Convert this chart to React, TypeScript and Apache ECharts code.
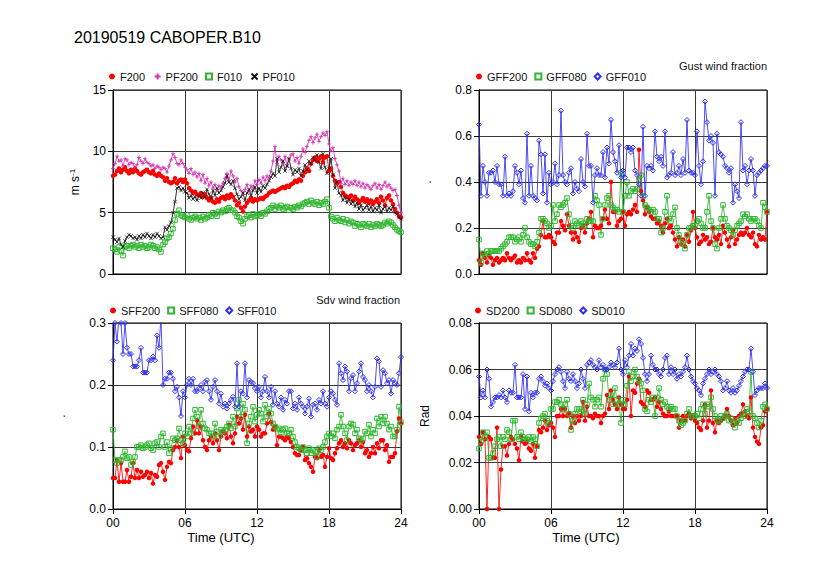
import React, { useEffect, useRef } from "react";
import * as echarts from "echarts";

// ---------- Panel 1: wind speed (m s-1), 10-min steps 00-24 UTC ----------
const F200 = [
  8.0, 8.1, 8.4, 8.6, 8.3, 8.5, 8.7, 8.4, 8.2, 8.5, 8.3, 8.6,
  8.4, 8.2, 8.1, 8.3, 8.4, 8.5, 8.3, 8.2, 8.4, 8.1, 8.0, 8.2,
  8.0, 7.9, 7.6, 7.8, 7.5, 7.4, 7.5, 7.8, 7.4, 7.6, 7.7, 7.5,
  7.7, 7.4, 7.0, 6.8, 6.6, 6.7, 6.5, 6.4, 6.6, 6.3, 6.5, 6.2,
  6.0, 6.2, 5.9, 5.8, 6.1, 5.9, 6.2, 6.3, 6.1, 6.4, 6.2, 6.5,
  6.3, 6.0, 5.6, 5.8, 5.4, 5.1, 5.5, 5.8, 6.0, 6.2, 5.9, 6.1,
  6.0, 6.1, 6.2, 6.1, 6.3, 6.4, 6.6, 6.7, 6.8, 6.7, 6.8, 6.9,
  7.0, 7.1, 7.0, 7.2, 7.1, 7.3, 7.4, 7.6, 7.5, 7.7, 7.6, 8.0,
  8.3, 8.6, 8.4, 9.0, 9.3, 9.5, 9.2, 9.4, 9.6, 9.1, 9.5, 9.6,
  8.4, 8.6, 8.0, 7.6, 7.4, 7.5, 7.1, 6.6, 6.4, 6.3, 6.2, 6.4,
  6.0, 6.3, 6.1, 5.8, 6.0, 6.2, 5.9, 6.1, 5.8, 6.0, 5.7, 5.9,
  6.1, 5.8, 6.3, 6.0, 5.6, 6.2, 6.4, 6.0, 5.7, 5.3, 5.0, 4.7,
  4.6,
];
const PF200 = [
  8.6, 9.0, 9.6, 9.2, 9.3, 8.8, 9.4, 9.3, 8.9, 9.1, 9.0, 8.7,
  8.9, 9.5, 9.2, 9.0, 9.4, 9.1, 9.0, 8.8, 8.9, 8.6, 8.8, 8.7,
  8.5, 8.7, 8.6, 8.3, 8.8, 9.3, 9.8, 9.5, 9.0, 8.9, 9.3, 9.0,
  8.7, 8.5, 8.2, 8.6, 8.1, 8.3, 7.9, 8.2, 7.6, 8.1, 7.4, 7.8,
  7.2, 7.5, 7.0, 7.3, 6.9, 7.2, 7.0, 7.4, 7.8, 8.2, 7.6, 8.4,
  8.0, 7.5, 7.8, 7.1, 6.8, 6.6, 6.9, 7.3, 6.7, 7.2, 7.0, 7.6,
  7.3, 7.7, 7.4, 7.9, 7.6, 8.0, 7.8, 8.4, 9.2, 10.4, 9.0, 9.6,
  9.3, 9.0, 9.6, 8.8, 9.4, 9.7, 9.8, 9.2, 9.5, 9.0, 9.6, 10.2,
  9.9, 10.4, 10.9, 11.2, 10.7, 11.1, 11.4, 10.8, 11.2, 11.5, 11.3, 11.6,
  10.6, 10.0, 10.3, 9.4, 8.9, 8.4, 7.4, 7.8, 7.3, 7.6, 7.2, 7.5,
  7.3, 7.6, 7.2, 7.5, 7.1, 7.4, 7.0, 7.3, 7.1, 6.9, 7.2, 7.4,
  7.0, 7.3, 6.9, 7.2, 7.5, 7.1, 7.3, 7.0, 6.8, 6.9, 6.4, 5.6,
  5.0,
];
const F010 = [
  2.1, 2.0, 1.8, 2.2, 1.9, 1.5, 2.2, 2.3, 2.1, 2.3, 2.4, 2.2,
  2.3, 2.1, 2.4, 2.2, 2.3, 2.1, 2.2, 2.4, 2.3, 2.1, 2.2, 2.0,
  1.8, 2.4, 2.6, 2.9, 3.0, 3.3, 3.7, 4.4, 4.9, 5.2, 4.8, 4.7,
  4.6, 4.8, 4.5, 4.4, 4.6, 4.7, 4.5, 4.6, 4.4, 4.7, 4.5, 4.6,
  4.8, 4.7, 5.0, 4.9, 4.7, 5.1, 5.0, 5.2, 5.1, 5.3, 5.4, 5.2,
  5.2, 5.0, 4.7, 4.6, 4.3, 4.1, 4.5, 4.7, 4.8, 4.6, 4.9, 4.7,
  4.8, 4.9, 4.7, 5.0, 4.9, 5.1, 5.3, 5.4, 5.6, 5.3, 5.5, 5.4,
  5.6, 5.3, 5.4, 5.5, 5.2, 5.4, 5.3, 5.5, 5.4, 5.6, 5.5, 5.7,
  5.8, 5.9, 5.7, 6.0, 5.8, 5.7, 5.9, 5.6, 5.8, 5.7, 5.9, 6.1,
  5.4, 4.7, 4.5, 4.3, 4.6, 4.4, 4.3, 4.5, 4.2, 4.4, 4.1, 4.3,
  4.2, 3.9, 4.1, 4.0, 3.8, 4.1, 4.0, 3.9, 4.1, 3.8, 4.0, 3.9,
  4.1, 4.0, 3.9, 4.0, 4.2, 4.1, 4.3, 4.2, 4.0, 3.8, 3.6, 3.5,
  3.4,
];
const PF010 = [
  3.0, 2.8, 2.6, 2.9, 2.4, 2.2, 2.7, 3.0, 3.2, 3.1, 2.9, 3.0,
  2.8, 3.1, 2.9, 3.2, 3.0, 3.3, 3.1, 2.9, 3.2, 3.0, 3.3, 3.1,
  2.9, 3.0, 3.8, 3.6, 3.9, 4.2, 5.0, 5.9, 7.0, 7.1, 6.8, 7.0,
  6.7, 6.6, 6.2, 6.4, 6.1, 6.3, 6.0, 6.4, 6.2, 6.6, 6.3, 6.9,
  6.5, 6.2, 6.8, 6.4, 7.0, 6.6, 6.8, 7.1, 7.4, 8.0, 7.5, 7.3,
  7.6, 7.0, 6.5, 6.1, 6.3, 6.6, 6.0, 6.6, 6.9, 6.4, 6.8, 7.1,
  6.6, 7.0, 6.7, 7.2, 7.0, 7.3, 7.6, 7.9, 8.2, 8.0, 9.4, 8.3,
  8.7, 9.2, 8.4, 8.8, 9.4, 8.6, 8.1, 8.5, 8.3, 8.6, 8.0, 8.4,
  8.9, 8.5, 9.2, 9.0, 9.5, 9.3, 9.7, 9.1, 8.6, 9.8, 8.7, 8.2,
  8.6, 9.4, 8.1, 7.0, 7.5, 6.6, 6.4, 6.0, 6.3, 5.8, 6.1, 5.7,
  5.9, 5.5, 5.8, 5.3, 5.6, 5.2, 5.4, 5.6, 5.2, 5.5, 5.1, 5.4,
  5.2, 5.6, 5.0, 5.3, 5.5, 5.1, 5.4, 5.2, 5.5, 5.0, 4.9, 4.6,
  4.5,
];

// ---------- Panel 2: gust wind fraction ----------
const GFF200 = [
  0.06, 0.04, 0.09, 0.07, 0.05, 0.08, 0.07, 0.04, 0.06, 0.07, 0.05, 0.06,
  0.07, 0.06, 0.09, 0.07, 0.06, 0.07, 0.08, 0.05, 0.06, 0.05, 0.07, 0.06,
  0.09, 0.06, 0.05, 0.09, 0.07, 0.11, 0.12, 0.17, 0.23, 0.16, 0.16, 0.17,
  0.16, 0.14, 0.13, 0.18, 0.18, 0.23, 0.21, 0.19, 0.26, 0.21, 0.18, 0.15,
  0.18, 0.16, 0.14, 0.20, 0.21, 0.18, 0.22, 0.24, 0.27, 0.16, 0.21, 0.20,
  0.20, 0.21, 0.24, 0.28, 0.24, 0.22, 0.40, 0.27, 0.27, 0.21, 0.23, 0.24,
  0.27, 0.21, 0.26, 0.27, 0.26, 0.28, 0.30, 0.27, 0.54, 0.36, 0.32, 0.26,
  0.29, 0.27, 0.25, 0.24, 0.24, 0.22, 0.23, 0.21, 0.18, 0.22, 0.24, 0.20,
  0.21, 0.18, 0.15, 0.12, 0.16, 0.13, 0.15, 0.12, 0.17, 0.14, 0.19, 0.27,
  0.20, 0.16, 0.13, 0.14, 0.17, 0.15, 0.16, 0.13, 0.14, 0.20, 0.16, 0.15,
  0.17, 0.13, 0.21, 0.18, 0.15, 0.12, 0.16, 0.19, 0.13, 0.15, 0.17, 0.18,
  0.17, 0.18, 0.20, 0.17, 0.16, 0.18, 0.13, 0.12, 0.17, 0.15, 0.16, 0.15,
  0.27,
];
const GFF080 = [
  0.15, 0.05, 0.09, 0.08, 0.10, 0.09, 0.10, 0.10, 0.10, 0.10, 0.10, 0.11,
  0.12, 0.13, 0.14, 0.16, 0.16, 0.16, 0.14, 0.15, 0.16, 0.14, 0.17, 0.20,
  0.16, 0.14, 0.13, 0.13, 0.12, 0.14, 0.18, 0.24, 0.24, 0.23, 0.22, 0.20,
  0.21, 0.30, 0.23, 0.26, 0.30, 0.29, 0.30, 0.31, 0.33, 0.26, 0.21, 0.20,
  0.23, 0.22, 0.21, 0.23, 0.22, 0.21, 0.24, 0.23, 0.23, 0.23, 0.34, 0.32,
  0.30, 0.17, 0.24, 0.30, 0.33, 0.34, 0.30, 0.29, 0.28, 0.28, 0.27, 0.44,
  0.27, 0.34, 0.40, 0.34, 0.36, 0.37, 0.36, 0.37, 0.41, 0.43, 0.34, 0.30,
  0.29, 0.28, 0.27, 0.28, 0.27, 0.24, 0.24, 0.18, 0.20, 0.27, 0.34, 0.24,
  0.23, 0.26, 0.29, 0.20, 0.17, 0.14, 0.13, 0.11, 0.17, 0.20, 0.20, 0.21,
  0.21, 0.23, 0.24, 0.22, 0.20, 0.20, 0.27, 0.34, 0.23, 0.20, 0.13, 0.11,
  0.20, 0.24, 0.30, 0.24, 0.21, 0.20, 0.19, 0.17, 0.19, 0.21, 0.22, 0.23,
  0.26, 0.25, 0.26, 0.24, 0.23, 0.24, 0.24, 0.23, 0.21, 0.20, 0.31, 0.29,
  0.27,
];
const GFF010 = [
  0.65, 0.34, 0.47, 0.40, 0.34, 0.44, 0.44, 0.45, 0.40, 0.47, 0.39, 0.39,
  0.34, 0.51, 0.34, 0.35, 0.34, 0.36, 0.47, 0.44, 0.39, 0.45, 0.33, 0.31,
  0.61, 0.34, 0.47, 0.34, 0.33, 0.32, 0.58, 0.52, 0.35, 0.52, 0.31, 0.44,
  0.39, 0.40, 0.48, 0.39, 0.43, 0.71, 0.43, 0.40, 0.39, 0.44, 0.46, 0.35,
  0.40, 0.37, 0.36, 0.50, 0.40, 0.38, 0.61, 0.47, 0.47, 0.31, 0.43, 0.46,
  0.43, 0.43, 0.53, 0.42, 0.55, 0.48, 0.67, 0.53, 0.49, 0.44, 0.56, 0.42,
  0.45, 0.42, 0.55, 0.55, 0.53, 0.55, 0.45, 0.43, 0.39, 0.34, 0.64, 0.34,
  0.47, 0.46, 0.47, 0.45, 0.62, 0.51, 0.49, 0.51, 0.47, 0.62, 0.42, 0.43,
  0.44, 0.53, 0.43, 0.44, 0.47, 0.43, 0.50, 0.44, 0.67, 0.45, 0.44, 0.44,
  0.43, 0.62, 0.47, 0.39, 0.49, 0.75, 0.66, 0.58, 0.60, 0.57, 0.34, 0.61,
  0.53, 0.52, 0.51, 0.47, 0.46, 0.44, 0.46, 0.31, 0.39, 0.36, 0.33, 0.66,
  0.45, 0.47, 0.39, 0.45, 0.50, 0.45, 0.34, 0.43, 0.44, 0.45, 0.46, 0.47,
  0.47,
];

// ---------- Panel 3: sdv wind fraction ----------
const SFF200 = [
  0.050, 0.050, 0.079, 0.044, 0.074, 0.044, 0.044, 0.063, 0.044, 0.052, 0.074, 0.050,
  0.063, 0.050, 0.060, 0.052, 0.055, 0.060, 0.050, 0.058, 0.041, 0.055, 0.052, 0.071,
  0.074, 0.060, 0.047, 0.068, 0.076, 0.074, 0.095, 0.100, 0.110, 0.100, 0.082, 0.117,
  0.103, 0.095, 0.093, 0.114, 0.133, 0.122, 0.143, 0.122, 0.133, 0.111, 0.100, 0.095,
  0.111, 0.117, 0.106, 0.122, 0.111, 0.095, 0.117, 0.125, 0.122, 0.114, 0.136, 0.117,
  0.106, 0.122, 0.149, 0.138, 0.146, 0.128, 0.152, 0.117, 0.133, 0.125, 0.128, 0.117,
  0.133, 0.128, 0.117, 0.122, 0.122, 0.138, 0.154, 0.140, 0.128, 0.133, 0.103, 0.117,
  0.117, 0.114, 0.111, 0.117, 0.114, 0.108, 0.100, 0.090, 0.087, 0.087, 0.095, 0.100,
  0.079, 0.082, 0.074, 0.068, 0.060, 0.084, 0.082, 0.095, 0.084, 0.087, 0.068, 0.084,
  0.098, 0.082, 0.079, 0.090, 0.098, 0.106, 0.111, 0.100, 0.106, 0.098, 0.111, 0.106,
  0.095, 0.103, 0.106, 0.111, 0.100, 0.108, 0.090, 0.095, 0.084, 0.090, 0.100, 0.090,
  0.106, 0.098, 0.111, 0.111, 0.095, 0.103, 0.076, 0.084, 0.084, 0.090, 0.125, 0.146,
  0.138,
];
const SFF080 = [
  0.128, 0.079, 0.074, 0.079, 0.079, 0.084, 0.093, 0.082, 0.084, 0.071, 0.076, 0.084,
  0.100, 0.100, 0.103, 0.098, 0.100, 0.103, 0.106, 0.098, 0.095, 0.106, 0.108, 0.100,
  0.117, 0.122, 0.100, 0.108, 0.090, 0.098, 0.114, 0.111, 0.114, 0.130, 0.111, 0.106,
  0.122, 0.117, 0.133, 0.122, 0.146, 0.160, 0.149, 0.133, 0.160, 0.138, 0.130, 0.128,
  0.122, 0.122, 0.117, 0.138, 0.125, 0.117, 0.128, 0.125, 0.128, 0.133, 0.138, 0.130,
  0.149, 0.133, 0.162, 0.176, 0.149, 0.170, 0.160, 0.106, 0.138, 0.149, 0.165, 0.141,
  0.152, 0.160, 0.154, 0.141, 0.168, 0.149, 0.162, 0.154, 0.138, 0.133, 0.128, 0.130,
  0.122, 0.128, 0.130, 0.122, 0.122, 0.128, 0.117, 0.108, 0.100, 0.098, 0.095, 0.100,
  0.095, 0.090, 0.098, 0.090, 0.095, 0.093, 0.084, 0.098, 0.095, 0.100, 0.108, 0.117,
  0.122, 0.117, 0.122, 0.114, 0.128, 0.133, 0.152, 0.133, 0.122, 0.111, 0.133, 0.138,
  0.136, 0.122, 0.128, 0.114, 0.111, 0.114, 0.125, 0.122, 0.136, 0.117, 0.128, 0.122,
  0.146, 0.133, 0.149, 0.138, 0.149, 0.138, 0.128, 0.133, 0.117, 0.117, 0.128, 0.165,
  0.140,
];
const SFF010 = [
  0.240, 0.300, 0.270, 0.310, 0.300, 0.250, 0.300, 0.260, 0.250, 0.250, 0.230, 0.230,
  0.230, 0.240, 0.260, 0.220, 0.220, 0.220, 0.240, 0.240, 0.246, 0.240, 0.280, 0.260,
  0.310, 0.200, 0.210, 0.210, 0.220, 0.220, 0.210, 0.190, 0.197, 0.180, 0.150, 0.190,
  0.180, 0.200, 0.210, 0.200, 0.210, 0.190, 0.190, 0.195, 0.200, 0.190, 0.205, 0.208,
  0.190, 0.176, 0.197, 0.208, 0.190, 0.170, 0.186, 0.165, 0.170, 0.162, 0.170, 0.176,
  0.181, 0.165, 0.235, 0.165, 0.190, 0.186, 0.235, 0.180, 0.208, 0.205, 0.203, 0.195,
  0.190, 0.197, 0.180, 0.190, 0.213, 0.190, 0.180, 0.197, 0.168, 0.190, 0.170, 0.165,
  0.180, 0.160, 0.176, 0.170, 0.190, 0.190, 0.162, 0.170, 0.160, 0.180, 0.170, 0.165,
  0.154, 0.165, 0.178, 0.149, 0.168, 0.170, 0.160, 0.176, 0.170, 0.190, 0.170, 0.165,
  0.180, 0.190, 0.186, 0.176, 0.168, 0.235, 0.219, 0.208, 0.230, 0.222, 0.190, 0.211,
  0.216, 0.190, 0.203, 0.222, 0.235, 0.213, 0.208, 0.190, 0.200, 0.190, 0.180, 0.197,
  0.243, 0.238, 0.197, 0.224, 0.219, 0.203, 0.208, 0.186, 0.208, 0.203, 0.200, 0.219,
  0.245,
];

// ---------- Panel 4: SD (rad) ----------
const SD200 = [
  0.031, 0.028, 0.033, 0.030, 0.000, 0.031, 0.030, 0.022, 0.022, 0.035, 0.000, 0.017,
  0.027, 0.027, 0.023, 0.028, 0.031, 0.030, 0.028, 0.026, 0.021, 0.031, 0.029, 0.028,
  0.029, 0.026, 0.025, 0.028, 0.022, 0.027, 0.034, 0.033, 0.035, 0.038, 0.034, 0.036,
  0.037, 0.035, 0.031, 0.040, 0.040, 0.043, 0.040, 0.043, 0.040, 0.041, 0.035, 0.040,
  0.037, 0.040, 0.038, 0.040, 0.046, 0.038, 0.044, 0.040, 0.040, 0.039, 0.041, 0.040,
  0.040, 0.037, 0.040, 0.041, 0.049, 0.043, 0.051, 0.047, 0.045, 0.043, 0.048, 0.045,
  0.043, 0.043, 0.047, 0.057, 0.040, 0.051, 0.050, 0.054, 0.056, 0.046, 0.045, 0.044,
  0.051, 0.050, 0.047, 0.047, 0.048, 0.044, 0.046, 0.043, 0.041, 0.040, 0.040, 0.042,
  0.040, 0.040, 0.040, 0.040, 0.035, 0.038, 0.040, 0.038, 0.040, 0.041, 0.039, 0.040,
  0.038, 0.037, 0.035, 0.034, 0.038, 0.045, 0.035, 0.038, 0.051, 0.037, 0.033, 0.038,
  0.037, 0.038, 0.039, 0.040, 0.043, 0.040, 0.038, 0.036, 0.039, 0.037, 0.040, 0.041,
  0.045, 0.042, 0.040, 0.039, 0.048, 0.035, 0.031, 0.029, 0.028, 0.035, 0.036, 0.042,
  0.043,
];
const SD080 = [
  0.026, 0.029, 0.033, 0.031, 0.033, 0.022, 0.022, 0.024, 0.027, 0.030, 0.031, 0.027,
  0.031, 0.030, 0.034, 0.033, 0.030, 0.038, 0.038, 0.031, 0.030, 0.033, 0.031, 0.030,
  0.030, 0.031, 0.029, 0.031, 0.030, 0.027, 0.037, 0.039, 0.040, 0.041, 0.038, 0.037,
  0.043, 0.043, 0.046, 0.046, 0.047, 0.045, 0.043, 0.045, 0.047, 0.041, 0.034, 0.038,
  0.041, 0.043, 0.043, 0.042, 0.047, 0.041, 0.045, 0.054, 0.048, 0.047, 0.044, 0.047,
  0.048, 0.044, 0.056, 0.060, 0.058, 0.047, 0.049, 0.045, 0.052, 0.047, 0.045, 0.037,
  0.047, 0.045, 0.053, 0.059, 0.055, 0.057, 0.060, 0.057, 0.055, 0.054, 0.051, 0.043,
  0.042, 0.047, 0.046, 0.048, 0.040, 0.048, 0.052, 0.047, 0.045, 0.046, 0.044, 0.043,
  0.044, 0.043, 0.043, 0.040, 0.038, 0.036, 0.037, 0.038, 0.041, 0.043, 0.040, 0.040,
  0.040, 0.041, 0.039, 0.043, 0.045, 0.041, 0.045, 0.044, 0.048, 0.043, 0.040, 0.038,
  0.038, 0.040, 0.039, 0.040, 0.041, 0.038, 0.039, 0.037, 0.035, 0.038, 0.037, 0.039,
  0.041, 0.040, 0.043, 0.042, 0.059, 0.040, 0.039, 0.037, 0.035, 0.038, 0.044, 0.045,
  0.043,
];
const SD010 = [
  0.057, 0.048, 0.051, 0.048, 0.060, 0.056, 0.044, 0.046, 0.048, 0.048, 0.049, 0.048,
  0.051, 0.048, 0.046, 0.051, 0.050, 0.050, 0.062, 0.048, 0.048, 0.048, 0.058, 0.043,
  0.057, 0.042, 0.050, 0.048, 0.050, 0.050, 0.056, 0.057, 0.055, 0.053, 0.054, 0.052,
  0.051, 0.055, 0.058, 0.060, 0.061, 0.059, 0.055, 0.052, 0.059, 0.056, 0.055, 0.058,
  0.055, 0.052, 0.054, 0.060, 0.056, 0.052, 0.062, 0.063, 0.064, 0.062, 0.061, 0.060,
  0.064, 0.061, 0.062, 0.060, 0.060, 0.061, 0.063, 0.062, 0.061, 0.063, 0.069, 0.060,
  0.058, 0.064, 0.061, 0.066, 0.071, 0.066, 0.069, 0.068, 0.073, 0.071, 0.065, 0.058,
  0.055, 0.058, 0.066, 0.062, 0.060, 0.060, 0.058, 0.057, 0.060, 0.065, 0.066, 0.058,
  0.061, 0.058, 0.060, 0.056, 0.058, 0.057, 0.059, 0.061, 0.066, 0.060, 0.057, 0.055,
  0.054, 0.052, 0.051, 0.049, 0.054, 0.056, 0.058, 0.060, 0.058, 0.059, 0.060, 0.058,
  0.057, 0.055, 0.051, 0.052, 0.055, 0.051, 0.050, 0.052, 0.050, 0.051, 0.053, 0.055,
  0.057, 0.059, 0.060, 0.060, 0.069, 0.059, 0.049, 0.051, 0.052, 0.052, 0.052, 0.054,
  0.052,
];

const X_TICKS = ["00", "06", "12", "18", "24"];
const FONT = "Liberation Sans, Arial, Helvetica, sans-serif";

const RED = "#ff0000";
const GREEN = "#2fb52f";
const BLUE = "#2f2ff0";
const MAGENTA = "#d82fb0";
const BLACK = "#111111";
const PLUS = "path://M0,5L10,5M5,0L5,10";
const CROSS = "path://M1,1L9,9M9,1L1,9";

const toPairs = (arr: number[]) => arr.map((v, i) => [(i * 24) / (arr.length - 1), v]);

type Sty = { symbol: string; size: number; fill: string; stroke: string; bw: number };
const STY: Record<string, Sty> = {
  dot: { symbol: "circle", size: 4.5, fill: RED, stroke: RED, bw: 0 },
  plus: { symbol: PLUS, size: 4, fill: "none", stroke: MAGENTA, bw: 0.8 },
  sq: { symbol: "rect", size: 4.5, fill: "rgba(255,255,255,0)", stroke: GREEN, bw: 1 },
  cross: { symbol: CROSS, size: 3.5, fill: "none", stroke: BLACK, bw: 0.8 },
  dia: { symbol: "diamond", size: 5, fill: "rgba(255,255,255,0)", stroke: BLUE, bw: 1 },
};

function line(name: string, data: number[], k: number, sty: Sty, lineColor: string) {
  return {
    type: "line",
    name,
    xAxisIndex: k,
    yAxisIndex: k,
    data: toPairs(data),
    symbol: sty.symbol,
    symbolSize: sty.size,
    showSymbol: true,
    showAllSymbol: true,
    lineStyle: { color: lineColor, width: 1, opacity: 0.85 },
    itemStyle: { color: sty.fill, borderColor: sty.stroke, borderWidth: sty.bw },
    emphasis: { disabled: true },
    silent: true,
    clip: true,
  };
}

const GRIDS = [
  { left: 113, top: 90, width: 288, height: 184 },
  { left: 479, top: 90, width: 288, height: 184 },
  { left: 113, top: 323, width: 288, height: 186 },
  { left: 479, top: 323, width: 288, height: 186 },
];

function xAxis(k: number, labels: boolean) {
  return {
    type: "value",
    gridIndex: k,
    min: 0,
    max: 24,
    interval: 6,
    axisLine: { show: true, lineStyle: { color: "#000", width: 1 } },
    axisTick: { show: labels, length: 5, lineStyle: { color: "#000" } },
    axisLabel: {
      show: labels,
      formatter: (v: number) => X_TICKS[Math.round(v / 6)],
      fontSize: 12,
      color: "#000",
      fontFamily: FONT,
      margin: 8,
    },
    splitLine: { show: true, lineStyle: { color: "#3a3a3a", width: 1 } },
  };
}

function yAxis(k: number, max: number, interval: number, digits: number, name: string, gap: number, rich?: any) {
  return {
    type: "value",
    gridIndex: k,
    min: 0,
    max,
    interval,
    name,
    nameLocation: "middle",
    nameRotate: 90,
    nameGap: gap,
    nameTextStyle: { fontSize: 12, color: "#000", fontFamily: FONT, rich },
    axisLine: { show: true, lineStyle: { color: "#000", width: 1 } },
    axisTick: { show: true, length: 5, lineStyle: { color: "#000" } },
    axisLabel: {
      formatter: (v: number) => v.toFixed(digits),
      fontSize: 12,
      color: "#000",
      fontFamily: FONT,
      margin: 7,
    },
    splitLine: { show: true, lineStyle: { color: "#3a3a3a", width: 1 } },
  };
}

function legend(left: number, top: number, items: { name: string; icon: string }[]) {
  return {
    left,
    top,
    padding: 0,
    orient: "horizontal",
    itemWidth: 6,
    itemHeight: 6,
    itemGap: 7,
    selectedMode: false,
    textStyle: { fontSize: 11, color: "#111", fontFamily: FONT },
    data: items,
  };
}

export default function App() {
  const ref = useRef<HTMLDivElement>(null);
  useEffect(() => {
    if (!ref.current) return;
    const chart = echarts.init(ref.current, undefined, { renderer: "svg" });
    chart.setOption({
      animation: false,
      backgroundColor: "#ffffff",
      title: [
        { text: "20190519 CABOPER.B10", left: 69, top: 24, textStyle: { fontSize: 16, fontWeight: "normal", color: "#000", fontFamily: FONT } },
        { text: "Gust wind fraction", right: 68, top: 55, textStyle: { fontSize: 11, fontWeight: "normal", color: "#111", fontFamily: FONT } },
        { text: "Sdv wind fraction", right: 435, top: 289, textStyle: { fontSize: 11, fontWeight: "normal", color: "#111", fontFamily: FONT } },
      ],
      legend: [
        legend(109, 71, [
          { name: "F200", icon: "circle" },
          { name: "PF200", icon: PLUS },
          { name: "F010", icon: "rect" },
          { name: "PF010", icon: CROSS },
        ]),
        legend(476, 71, [
          { name: "GFF200", icon: "circle" },
          { name: "GFF080", icon: "rect" },
          { name: "GFF010", icon: "diamond" },
        ]),
        legend(110, 305, [
          { name: "SFF200", icon: "circle" },
          { name: "SFF080", icon: "rect" },
          { name: "SFF010", icon: "diamond" },
        ]),
        legend(475, 305, [
          { name: "SD200", icon: "circle" },
          { name: "SD080", icon: "rect" },
          { name: "SD010", icon: "diamond" },
        ]),
      ],
      grid: GRIDS.map((g) => ({ ...g, show: true, borderColor: "#000", borderWidth: 1, backgroundColor: "transparent" })),
      xAxis: [xAxis(0, false), xAxis(1, false), xAxis(2, true), xAxis(3, true)],
      yAxis: [
        yAxis(0, 15, 5, 0, "m s{s|-1}", 31, { s: { fontSize: 8, verticalAlign: "top", padding: [0, 0, 6, 0] } }),
        yAxis(1, 0.8, 0.2, 1, ".", 46),
        yAxis(2, 0.3, 0.1, 1, ".", 46),
        yAxis(3, 0.08, 0.02, 2, "Rad", 48),
      ],
      graphic: [
        { type: "text", x: 221, y: 537, style: { text: "Time (UTC)", fontSize: 13, fontFamily: FONT, fill: "#000", align: "center", verticalAlign: "middle" } },
        { type: "text", x: 586, y: 537, style: { text: "Time (UTC)", fontSize: 13, fontFamily: FONT, fill: "#000", align: "center", verticalAlign: "middle" } },
      ],
      series: [
        line("F200", F200, 0, STY.dot, RED),
        line("PF200", PF200, 0, STY.plus, MAGENTA),
        line("F010", F010, 0, STY.sq, GREEN),
        line("PF010", PF010, 0, STY.cross, BLACK),
        line("GFF200", GFF200, 1, STY.dot, RED),
        line("GFF080", GFF080, 1, STY.sq, GREEN),
        line("GFF010", GFF010, 1, STY.dia, BLUE),
        line("SFF200", SFF200, 2, STY.dot, RED),
        line("SFF080", SFF080, 2, STY.sq, GREEN),
        line("SFF010", SFF010, 2, STY.dia, BLUE),
        line("SD200", SD200, 3, STY.dot, RED),
        line("SD080", SD080, 3, STY.sq, GREEN),
        line("SD010", SD010, 3, STY.dia, BLUE),
      ],
    });
    return () => chart.dispose();
  }, []);
  return <div ref={ref} style={{ position: "fixed", left: 0, top: 0, width: 840, height: 575 }} />;
}
